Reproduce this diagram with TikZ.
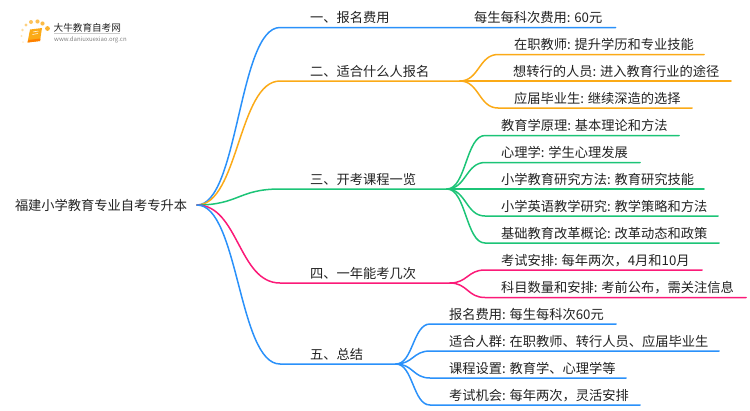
\documentclass[tikz,border=0pt]{standalone}
\usepackage{fontspec}
\setmainfont{Noto Sans CJK SC}
\definecolor{bblue}{HTML}{2A91FA}
\definecolor{borange}{HTML}{FBAA17}
\definecolor{bgreen}{HTML}{1CC477}
\definecolor{bpink}{HTML}{FB1A78}
\definecolor{ink}{HTML}{222222}
\tikzset{
  lbl/.style={anchor=base west,inner sep=0pt,outer sep=0pt,text=ink,font=\fontsize{13.25}{14}\selectfont},
  wire/.style={line width=1.5pt,line cap=round},
}
\usetikzlibrary{calc}
\begin{document}
\begin{tikzpicture}[x=1pt,y=-1pt]
\useasboundingbox (0,0) rectangle (750,410);
% root
\node[lbl] (root) at (15,210) {福建小学教育专业自考专升本};
\coordinate (o) at (197,205);
% level 1 labels
\node[lbl] (l1) at (310,22) {一、报名费用};
\node[lbl] (l2) at (310,76) {二、适合什么人报名};
\node[lbl] (l3) at (310,184) {三、开考课程一览};
\node[lbl] (l4) at (310,278) {四、一年能考几次};
\node[lbl] (l5) at (310,359) {五、总结};
% level 1 knots
\coordinate (a1) at (280,27.5); \coordinate (e1) at (615.5,27.5);
\coordinate (a2) at (280,81);   \coordinate (e2) at (460,81);
\coordinate (a3) at (280,189);  \coordinate (e3) at (447,189);
\coordinate (a4) at (280,283);  \coordinate (e4) at (450,283);
\coordinate (a5) at (280,364);  \coordinate (e5) at (396,364);
% leaves
\node[lbl] (t1)  at (474,22) {每生每科次费用: 60元};
\node[lbl] (t21) at (514,49) {在职教师: 提升学历和专业技能};
\node[lbl] (t22) at (513,76) {想转行的人员: 进入教育行业的途径};
\node[lbl] (t23) at (514,103) {应届毕业生: 继续深造的选择};
\node[lbl] (t31) at (501,130) {教育学原理: 基本理论和方法};
\node[lbl] (t32) at (501,157) {心理学: 学生心理发展};
\node[lbl] (t33) at (501,184) {小学教育研究方法: 教育研究技能};
\node[lbl] (t34) at (501,211) {小学英语教学研究: 教学策略和方法};
\node[lbl] (t35) at (501,238) {基础教育改革概论: 改革动态和政策};
\node[lbl] (t41) at (501,265) {考试安排: 每年两次，4月和10月};
\node[lbl] (t42) at (501,292) {科目数量和安排: 考前公布，需关注信息};
\node[lbl] (t51) at (449,319) {报名费用: 每生每科次60元};
\node[lbl] (t52) at (449,346) {适合人群: 在职教师、转行人员、应届毕业生};
\node[lbl] (t53) at (449,373) {课程设置: 教育学、心理学等};
\node[lbl] (t54) at (449,400) {考试机会: 每年两次，灵活安排};
% branch wires
\foreach \a/\e/\c in {a1/e1/bblue,a2/e2/borange,a3/e3/bgreen,a4/e4/bpink,a5/e5/bblue}{
  \draw[wire,\c] (o) .. controls ($(o)!0.5!(\a |- o)$) and ($(\a)!0.5!(o |- \a)$) .. (\a) -- (\e);
}
% leaf wires: source / y / start x / end x / colour
\foreach \n/\s/\y/\x/\z/\c in {
  1/e2/54.5/498/704/borange,2/e2/81/498/731/borange,3/e2/108/498/692/borange,
  4/e3/135.5/485/679/bgreen,5/e3/162.5/485/640/bgreen,6/e3/189/485/704/bgreen,7/e3/216/485/718/bgreen,8/e3/243/485/719/bgreen,
  9/e4/270/485/702/bpink,10/e4/297.5/485/746/bpink,
  11/e5/324/430/616/bblue,12/e5/351/430/719/bblue,13/e5/378/430/626/bblue,14/e5/405/430/640/bblue}{
  \coordinate (s\n) at (\x,\y); \coordinate (f\n) at (\z,\y);
  \draw[wire,\c] (\s) .. controls ($(\s)!0.5!(s\n |- \s)$) and ($(s\n)!0.5!(\s |- s\n)$) .. (s\n) -- (f\n);
}
% logo
\foreach \p/\r/\o in {{37.5,21.5}/2.1/0.75,{31,22}/2/0.7,{26,25}/1.7/0.55,{22.5,30}/1.4/0.4,{21.5,36}/1.2/0.3,{23,42}/1/0.2,{42.5,23.5}/2.1/0.8,{47.5,28.5}/2.4/0.9}{
  \fill[borange,opacity=\o] (\p) circle (\r);
}
\fill[borange] (30,29.5) -- (42,28) -- (40,41) -- (27.5,42.5) -- cycle;
\fill[orange] (27.5,42.5) -- (40,41) -- (40.5,38.5) -- (28.5,40) -- cycle;
\draw[white,line width=.5pt] (33,32) -- (38.5,31) (32.5,34.5) -- (38,33.5);
\node[anchor=base west,inner sep=0pt,text=ink,font=\fontsize{9.6}{10}\selectfont] (logo1) at (53.5,31) {大牛教育自考网};
\draw[gray!40,line width=.5pt] (54,33.5) -- (120,33.5);
\node[anchor=base west,inner sep=0pt,text=gray,font=\fontsize{6}{6}\selectfont] (logo2) at (54,41) {www.daniuxuexiao.org.cn};
\end{tikzpicture}
\end{document}
